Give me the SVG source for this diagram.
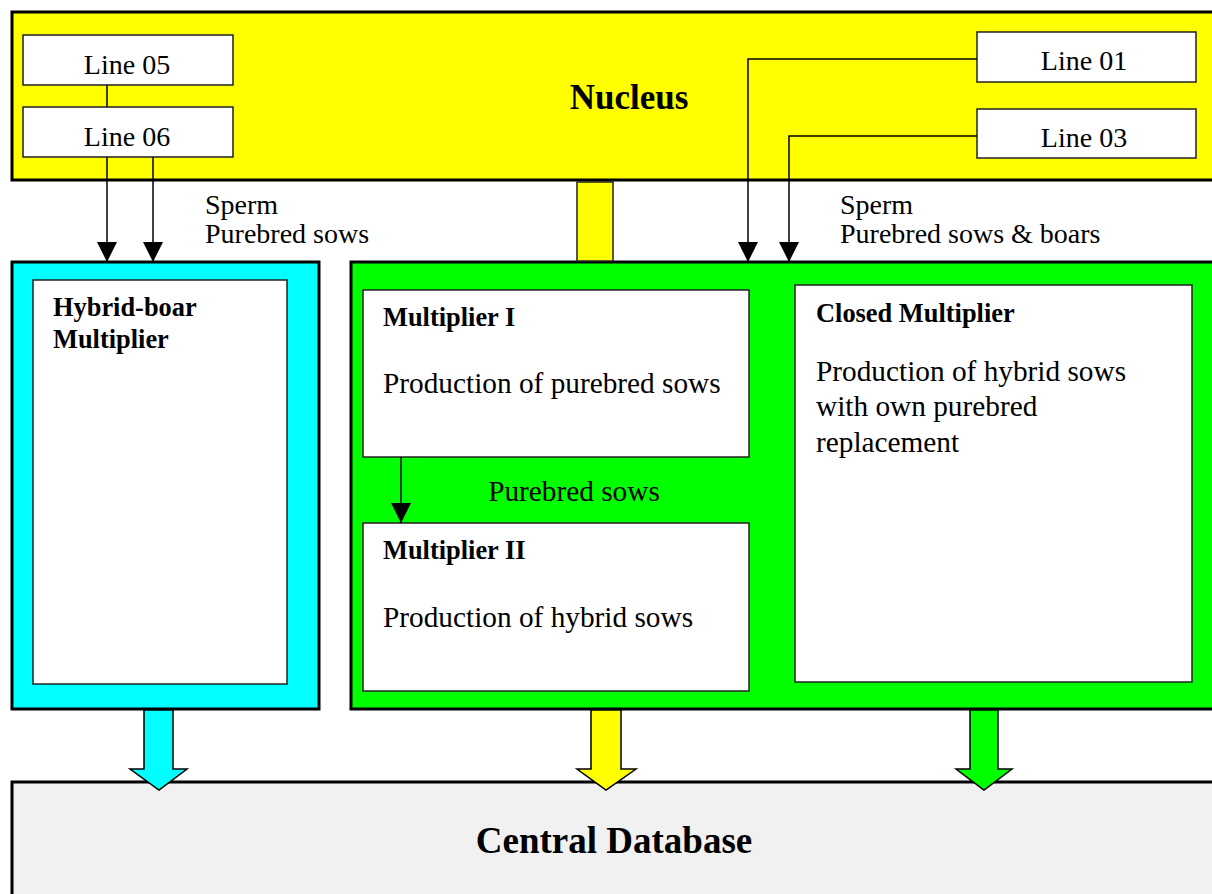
<svg xmlns="http://www.w3.org/2000/svg" width="1212" height="894" viewBox="0 0 1212 894">
  <defs>
    <marker id="arrow" viewBox="0 0 20 20" refX="20" refY="10" markerWidth="20" markerHeight="20" markerUnits="userSpaceOnUse" orient="auto">
      <path d="M0,0 L20,10 L0,20 Z" fill="#000"/>
    </marker>
    <style>
      .t { font-family: "Liberation Serif", "Times New Roman", serif; fill: #000; }
      .lbl { font-size: 28px; }
      .body { font-size: 29.3px; }
      .flow { font-size: 28px; }
      .bold { font-size: 26.4px; font-weight: bold; }
      .frame { stroke: #000; stroke-width: 3; }
      .inner { fill: #fff; stroke: #222; stroke-width: 1.5; }
      .wire { fill: none; stroke: #000; stroke-width: 1.5; }
      .block { stroke: #000; stroke-width: 1.5; stroke-linejoin: miter; }
    </style>
  </defs>

  <rect width="1212" height="894" fill="#fff"/>

  <!-- Nucleus -->
  <g id="nucleus">
    <rect x="12" y="12" width="1210" height="168" fill="#ffff00" class="frame"/>
    <text x="629" y="109" text-anchor="middle" class="t" font-size="35" font-weight="bold">Nucleus</text>
  </g>

  <g id="line05">
    <rect x="23" y="35" width="210" height="50" class="inner"/>
    <text x="127" y="74" text-anchor="middle" class="t lbl">Line 05</text>
  </g>
  <g id="line06">
    <rect x="23" y="107" width="210" height="50" class="inner"/>
    <text x="127" y="146" text-anchor="middle" class="t lbl">Line 06</text>
  </g>
  <g id="line01">
    <rect x="977" y="32" width="219" height="50" class="inner"/>
    <text x="1084" y="70" text-anchor="middle" class="t lbl">Line 01</text>
  </g>
  <g id="line03">
    <rect x="977" y="109" width="219" height="49" class="inner"/>
    <text x="1084" y="147" text-anchor="middle" class="t lbl">Line 03</text>
  </g>

  <!-- Hybrid-boar multiplier -->
  <g id="hybrid-boar">
    <rect x="12" y="262" width="307" height="447" fill="#00ffff" class="frame"/>
    <rect x="33" y="280" width="254" height="404" class="inner"/>
    <text x="53" y="316" class="t bold">Hybrid-boar</text>
    <text x="53" y="348" class="t bold">Multiplier</text>
  </g>

  <!-- Multiplier group -->
  <g id="multipliers">
    <rect x="351" y="262" width="871" height="447" fill="#00ff00" class="frame"/>
    <text x="574" y="501" text-anchor="middle" class="t body">Purebred sows</text>
  </g>
  <g id="multiplier-1">
    <rect x="363" y="290" width="386" height="167" class="inner"/>
    <text x="383" y="326" class="t bold">Multiplier I</text>
    <text x="383" y="393" class="t body">Production of purebred sows</text>
  </g>
  <g id="multiplier-2">
    <rect x="363" y="523" width="386" height="168" class="inner"/>
    <text x="383" y="559" class="t bold">Multiplier II</text>
    <text x="383" y="627" class="t body">Production of hybrid sows</text>
  </g>
  <g id="closed-multiplier">
    <rect x="795" y="285" width="397" height="397" class="inner"/>
    <text x="816" y="322" class="t bold">Closed Multiplier</text>
    <text x="816" y="381" class="t body">Production of hybrid sows</text>
    <text x="816" y="416" class="t body">with own purebred</text>
    <text x="816" y="452" class="t body">replacement</text>
  </g>

  <!-- Central database -->
  <g id="central-db">
    <rect x="12" y="782" width="1210" height="130" fill="#f1f1f1" class="frame"/>
    <text x="614" y="853" text-anchor="middle" class="t" font-size="37" font-weight="bold">Central Database</text>
  </g>

  <!-- Flow labels -->
  <g id="flow-labels">
    <text x="205" y="214" class="t flow">Sperm</text>
    <text x="205" y="243" class="t flow">Purebred sows</text>
    <text x="840" y="214" class="t flow">Sperm</text>
    <text x="840" y="243" class="t flow">Purebred sows &amp; boars</text>
  </g>

  <!-- Connectors -->
  <g id="connectors">
    <line x1="107" y1="85" x2="107" y2="107" class="wire"/>
    <line x1="107" y1="157" x2="107" y2="262" class="wire" marker-end="url(#arrow)"/>
    <line x1="153" y1="157" x2="153" y2="262" class="wire" marker-end="url(#arrow)"/>
    <polyline points="977,59 748,59 748,262" class="wire" marker-end="url(#arrow)"/>
    <polyline points="977,136 789,136 789,262" class="wire" marker-end="url(#arrow)"/>
    <line x1="401" y1="457" x2="401" y2="523" class="wire" marker-end="url(#arrow)"/>
    <!-- nucleus to multiplier link -->
    <rect x="577" y="182" width="36" height="79" fill="#ffff00" stroke="#222" stroke-width="1.5"/>
    <!-- block arrows to the database -->
    <polygon points="144,710 173,710 173,769 187,769 159,790 130,769 144,769" fill="#00ffff" class="block"/>
    <polygon points="591,710 621,710 621,769 636,769 606,790 577,769 591,769" fill="#ffff00" class="block"/>
    <polygon points="970,710 998,710 998,769 1012,769 984,790 956,769 970,769" fill="#00ff00" class="block"/>
  </g>
</svg>
